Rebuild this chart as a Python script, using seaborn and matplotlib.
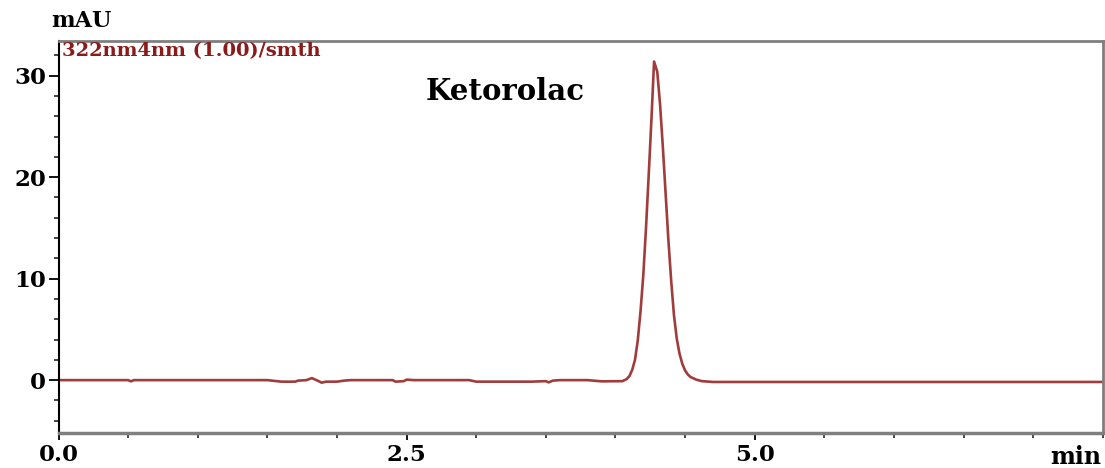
import numpy as np
import pandas as pd
import matplotlib
matplotlib.use("Agg")
import matplotlib.pyplot as plt
import seaborn as sns
from matplotlib.ticker import MultipleLocator

# Retention time (min) and absorbance (mAU)
time_min = [0.00, 0.50, 0.52, 0.54, 1.00, 1.50, 1.60, 1.62, 1.70, 1.72, 1.78, 1.82, 1.86, 1.89,
            1.92, 1.95, 2.00, 2.05, 2.10, 2.40, 2.42, 2.48, 2.50, 2.55, 2.95, 3.00, 3.40,
            3.50, 3.52, 3.55, 3.60, 3.80, 3.90, 4.05, 4.08, 4.10, 4.12, 4.14, 4.16,
            4.18, 4.20, 4.22, 4.24, 4.26, 4.277, 4.30, 4.32, 4.34, 4.36, 4.38, 4.40,
            4.42, 4.44, 4.46, 4.48, 4.50, 4.52, 4.54, 4.58, 4.62, 4.70, 5.00, 5.50,
            6.00, 6.50, 7.00, 7.50]
absorbance = [0.00, 0.00, -0.12, 0.00, 0.00, 0.00, -0.15, -0.15, -0.15, -0.05, 0.00, 0.20, -0.05, -0.25,
              -0.15, -0.15, -0.15, -0.05, 0.00, 0.00, -0.15, -0.10, 0.05, 0.00, 0.00, -0.15, -0.15,
              -0.10, -0.22, -0.05, 0.00, 0.00, -0.12, -0.10, 0.10, 0.40, 1.00, 2.00, 3.90,
              6.80, 10.40, 15.20, 20.60, 26.20, 31.40, 30.40, 27.20, 23.00, 18.40, 13.80, 9.80,
              6.40, 4.10, 2.60, 1.60, 0.95, 0.55, 0.30, 0.05, -0.10, -0.18, -0.18, -0.18,
              -0.18, -0.18, -0.18, -0.18]

x_major = [0.0, 2.5, 5.0]
x_labels = ["0.0", "2.5", "5.0"]
y_major = [0, 10, 20, 30]

df = pd.DataFrame({"time": time_min, "mAU": absorbance})

sns.set_theme(style="white")
plt.rcParams["font.family"] = ["DejaVu Serif", "Liberation Serif"]
plt.rcParams["font.weight"] = "bold"

fig = plt.figure(figsize=(11.05, 4.68), dpi=100)
ax = fig.add_axes([0.053, 0.075, 0.945, 0.837])

sns.lineplot(data=df, x="time", y="mAU", ax=ax, color="#a03c3c", linewidth=1.9)

ax.set_xlim(0, 7.5)
ax.set_ylim(-5.2, 33.4)
ax.set_xticks(x_major)
ax.set_xticklabels(x_labels)
ax.set_yticks(y_major)
ax.xaxis.set_minor_locator(MultipleLocator(0.5))
ax.yaxis.set_minor_locator(MultipleLocator(2))
ax.tick_params(axis="both", which="major", direction="out", length=7, width=1.3,
               labelsize=16.5, colors="black", bottom=True, left=True, pad=2)
ax.tick_params(axis="x", which="major", length=5, pad=3)
ax.tick_params(axis="both", which="minor", direction="out", length=3.5, width=1.2,
               bottom=True, left=True)
for lab in ax.get_xticklabels() + ax.get_yticklabels():
    lab.set_fontweight("bold")

ax.set_xlabel("")
ax.set_ylabel("")

for side in ["top", "right"]:
    ax.spines[side].set_visible(True)
    ax.spines[side].set_color("#7f7f7f")
    ax.spines[side].set_linewidth(2.0)
ax.spines["left"].set_color("black")
ax.spines["left"].set_linewidth(1.5)
ax.spines["bottom"].set_color("#7f7f7f")
ax.spines["bottom"].set_linewidth(2.5)

fig.text(0.046, 0.955, "mAU", fontsize=16, fontweight="bold", color="black", ha="left", va="center")
fig.text(0.997, 0.024, "min", fontsize=17, fontweight="bold", color="black", ha="right", va="center")
ax.text(0.003, 0.998, "322nm4nm (1.00)/smth", transform=ax.transAxes, fontsize=14,
        fontweight="bold", color="#8b1a1a", ha="left", va="top")
ax.text(3.21, 28.4, "Ketorolac", fontsize=21, fontweight="bold", color="black", ha="center", va="center")

ax.grid(False)
fig.savefig("out.png", dpi=100, facecolor="white")
